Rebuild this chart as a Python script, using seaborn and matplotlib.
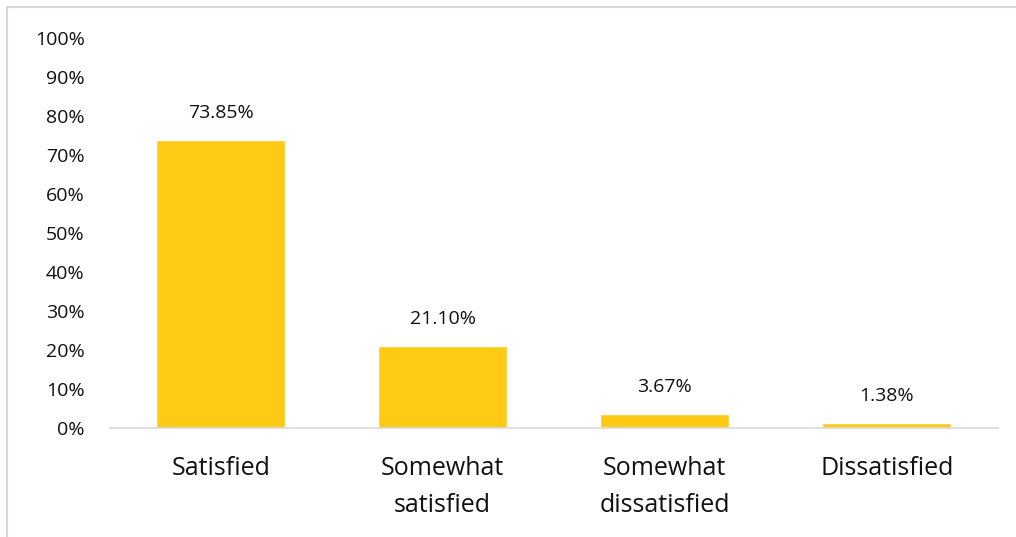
import seaborn as sns
import pandas as pd
import matplotlib.pyplot as plt
from matplotlib.lines import Line2D

categories = ['Satisfied', 'Somewhat\nsatisfied', 'Somewhat\ndissatisfied', 'Dissatisfied']
shares = [73.85, 21.10, 3.67, 1.38]
yticks = list(range(0, 101, 10))

df = pd.DataFrame({'cat': categories, 'share': shares})

sns.set_style('white')
plt.rcParams['font.family'] = ['Open Sans', 'DejaVu Sans']

fig = plt.figure(figsize=(10.16, 5.37), dpi=100)
ax = fig.add_axes([0.108, 0.203, 0.874, 0.726])
sns.barplot(data=df, x='cat', y='share', color='#FECA15', saturation=1,
            width=0.58, ax=ax)

for i, v in enumerate(shares):
    ax.text(i, v + 4.6, f'{v:.2f}%', ha='center', va='bottom', fontsize=14, color='#111111')

ax.set_ylim(0, 100)
ax.set_xlim(-0.5, 3.5)
ax.set_yticks(yticks)
ax.set_yticklabels([f'{t}%' for t in yticks], fontsize=14)
ax.tick_params(axis='y', length=0, pad=18, labelcolor='#111111')
ax.tick_params(axis='x', length=0, pad=20, labelsize=18, labelcolor='#111111')
for lbl in ax.get_xticklabels():
    lbl.set_linespacing(1.65)
ax.set_xlabel('')
ax.set_ylabel('')
for s in ['top', 'right', 'left']:
    ax.spines[s].set_visible(False)
ax.spines['bottom'].set_color('#D9D9D9')
ax.spines['bottom'].set_linewidth(1.2)

# outer chart frame (left and top edges visible)
fig.add_artist(Line2D([7 / 1016, 7 / 1016], [0, 1 - 7 / 537], color='#D9D9D9', lw=1.5,
                      transform=fig.transFigure))
fig.add_artist(Line2D([7 / 1016, 1], [1 - 7 / 537, 1 - 7 / 537], color='#D9D9D9', lw=1.5,
                      transform=fig.transFigure))

plt.savefig('out.png', dpi=100)
